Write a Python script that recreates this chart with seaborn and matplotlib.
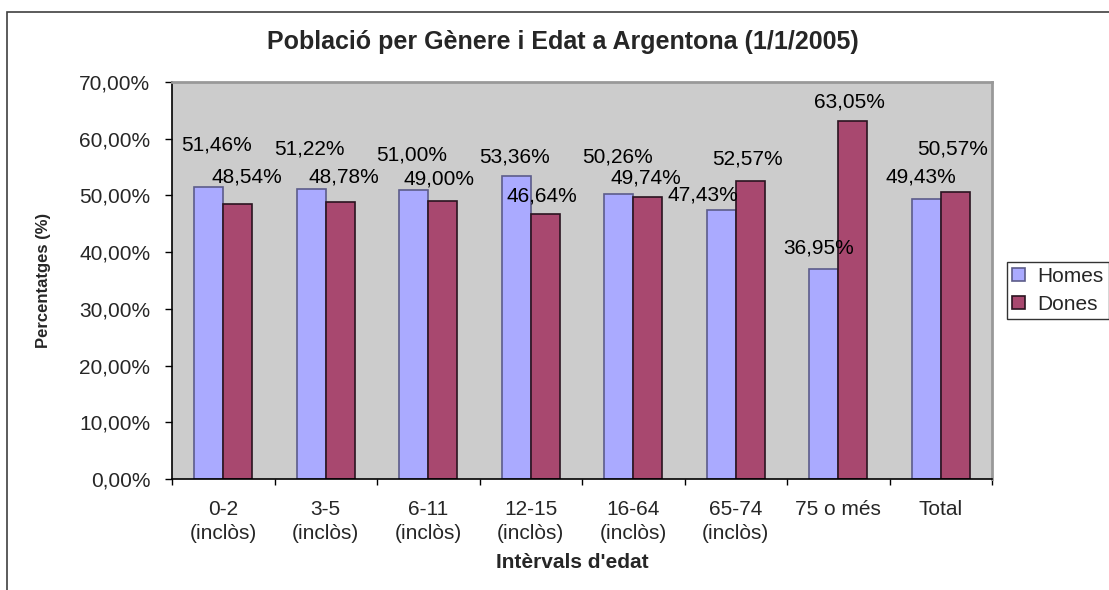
import pandas as pd
import seaborn as sns
import matplotlib.pyplot as plt
from matplotlib.patches import Rectangle, Patch
from matplotlib.ticker import FuncFormatter, FixedLocator

# data
intervals = ['0-2\n(inclòs)', '3-5\n(inclòs)', '6-11\n(inclòs)', '12-15\n(inclòs)',
             '16-64\n(inclòs)', '65-74\n(inclòs)', '75 o més', 'Total']
homes = [51.46, 51.22, 51.00, 53.36, 50.26, 47.43, 36.95, 49.43]
dones = [48.54, 48.78, 49.00, 46.64, 49.74, 52.57, 63.05, 50.57]
series_names = ['Homes', 'Dones']

df = pd.DataFrame({
    'interval': intervals * 2,
    'pct': homes + dones,
    'genere': [series_names[0]] * len(homes) + [series_names[1]] * len(dones),
})

# label offsets from bar top (pixels), as the labels sit in the original
homes_lbl_dx = [7.5, -1.5, -2, -1.5, -1.5, -18, -5.5, -5.5]
homes_lbl_dy = [42, 40, 35, 19, 37, 15, 21, 22]
dones_lbl_dx = [9.5, 3.5, -3.5, -3, -2, -2.5, -3.5, -3]
dones_lbl_dy = [27, 25, 22, 18, 19, 22, 19, 43]

sns.set_style('white')
plt.rcParams['font.family'] = ['Liberation Sans', 'DejaVu Sans']

W, H = 1109, 590
fig = plt.figure(figsize=(W / 100, H / 100), dpi=100)
ax = fig.add_axes([172 / W, 111 / H, 820 / W, 397 / H])
ax.set_facecolor('#CCCCCC')

colors = ['#AAAAFF', '#A8486F']
edges = ['#5C5C8A', '#2A1420']
sns.barplot(data=df, x='interval', y='pct', hue='genere', palette=colors,
            saturation=1, width=0.57, linewidth=1.2, ax=ax, legend=False)

for cont, ec in zip(ax.containers, edges):
    for p in cont.patches:
        p.set_edgecolor(ec)

px2pt = 72 / 100
for cont, vals, dxs, dys in zip(ax.containers, [homes, dones],
                                [homes_lbl_dx, dones_lbl_dx], [homes_lbl_dy, dones_lbl_dy]):
    for p, v, dx, dy in zip(cont.patches, vals, dxs, dys):
        txt = f'{v:.2f}'.replace('.', ',') + '%'
        ax.annotate(txt, (p.get_x() + p.get_width() / 2, p.get_height()),
                    xytext=(dx * px2pt, dy * px2pt), textcoords='offset points',
                    ha='center', va='center', fontsize=15, color='black',
                    annotation_clip=False)

ax.set_ylim(0, 70)
ax.set_xlim(-0.5, len(intervals) - 0.5)
ax.set_yticks(range(0, 71, 10))
ax.yaxis.set_major_formatter(FuncFormatter(lambda v, _: f'{v:.2f}'.replace('.', ',') + '%'))
ax.xaxis.set_minor_locator(FixedLocator([i - 0.5 for i in range(len(intervals) + 1)]))
ax.tick_params(axis='y', which='major', direction='out', length=5, width=1,
               color='black', pad=10.5, labelsize=15, left=True)
ax.tick_params(axis='x', which='major', length=0, pad=15, labelsize=15)
ax.tick_params(axis='x', which='minor', direction='out', length=4, width=1,
               color='black', bottom=True)
for lab in ax.get_xticklabels():
    lab.set_linespacing(1.35)

for s in ['left', 'bottom']:
    ax.spines[s].set_color('black')
    ax.spines[s].set_linewidth(1.2)
for s in ['top', 'right']:
    ax.spines[s].set_color('#999999')
    ax.spines[s].set_linewidth(2)

ax.set_xlabel("Intèrvals d'edat", fontsize=15, fontweight='bold')
ax.xaxis.set_label_coords((572 - 172) / 820, (479 - 563) / 397)
ax.xaxis.label.set_va('center')
ax.set_ylabel('Percentatges (%)', fontsize=12, fontweight='bold')
ax.yaxis.set_label_coords((51 - 172) / 820, 0.5)

fig.text(563 / W, 1 - 42 / H, 'Població per Gènere i Edat a Argentona (1/1/2005)',
         ha='center', va='center', fontsize=18, fontweight='bold')

handles = [Patch(facecolor=c, edgecolor=e, linewidth=1.2) for c, e in zip(colors, edges)]
leg = fig.legend(handles, series_names, loc='upper left',
                 bbox_to_anchor=(1007 / W, 1 - 262 / H), fontsize=15,
                 frameon=True, fancybox=False, handlelength=0.6, handleheight=0.6,
                 handletextpad=0.6, borderpad=0.25, labelspacing=0.4, borderaxespad=0)
leg.get_frame().set_edgecolor('black')
leg.get_frame().set_linewidth(1)

fig.patches.append(Rectangle((7 / W, -0.1), 1.2, 1.1 - 12 / H, fill=False,
                             edgecolor='#404040', linewidth=1.2,
                             transform=fig.transFigure, figure=fig))

plt.savefig('out.png', dpi=100)
plt.close()
